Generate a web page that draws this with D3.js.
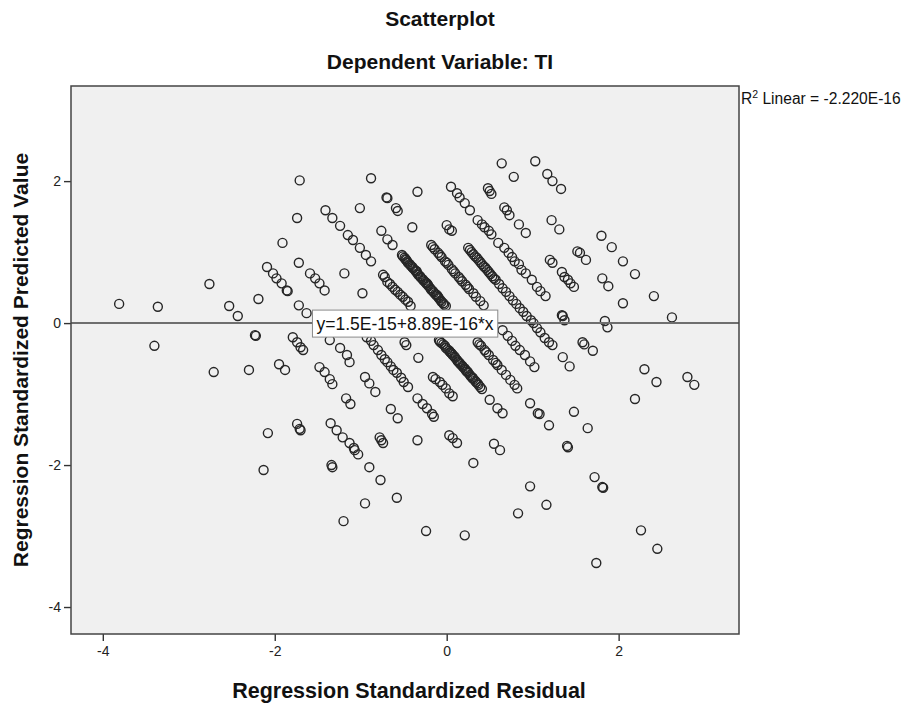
<!DOCTYPE html>
<html><head><meta charset="utf-8">
<script src="https://cdn.jsdelivr.net/npm/d3@7"></script>
<style>
body{margin:0;background:#fff;}
svg{display:block;}
text{font-family:"Liberation Sans",Arial,sans-serif;}
</style>
</head><body>
<svg id="chart" width="905" height="704"></svg>
<script>
const chartTitle = "Scatterplot";
const chartSubtitle = "Dependent Variable: TI";
const xTitle = "Regression Standardized Residual";
const yTitle = "Regression Standardized Predicted Value";
const xTicks = [-4, -2, 0, 2];
const yTicks = [-4, -2, 0, 2];
const xDomain = [-4.37, 3.40];
const yDomain = [-4.38, 3.34];
const fitIntercept = 1.5e-15;
const fitSlope = 8.89e-16;
const fitLabel = "y=1.5E-15+8.89E-16*x";
const r2Parts = ["R", "2", " Linear = -2.220E-16"];

// [standardized residual, standardized predicted value]
const points = [
[-3.81,0.27],[-3.40,-0.32],[-2.13,-2.07],
[-3.36,0.23],[-2.71,-0.69],[-2.08,-1.55],[-1.20,-2.79],
[-2.30,-0.66],[-1.74,-1.42],[-1.71,-1.49],[-1.70,-1.51],[-1.34,-2.00],[-1.33,-2.03],[-0.95,-2.54],
[-2.76,0.55],[-2.53,0.24],[-2.43,0.10],[-2.23,-0.17],[-2.22,-0.18],[-1.95,-0.58],[-1.88,-0.66],[-1.35,-1.41],[-1.28,-1.51],[-1.21,-1.61],[-1.13,-1.69],[-1.08,-1.76],[-1.07,-1.79],[-1.03,-1.85],[-0.90,-2.03],[-0.77,-2.21],[-0.58,-2.46],[-0.24,-2.93],
[-2.19,0.34],[-1.79,-0.20],[-1.74,-0.27],[-1.70,-0.34],[-1.67,-0.38],[-1.48,-0.62],[-1.42,-0.69],[-1.36,-0.79],[-1.33,-0.86],[-1.17,-1.06],[-1.12,-1.14],[-0.78,-1.61],[-0.76,-1.65],[-0.74,-1.69],[0.21,-2.99],
[-2.09,0.79],[-2.02,0.70],[-1.98,0.63],[-1.92,0.56],[-1.86,0.46],[-1.85,0.45],[-1.72,0.25],[-1.63,0.14],[-1.36,-0.24],[-1.24,-0.35],[-1.16,-0.45],[-1.13,-0.55],[-0.95,-0.76],[-0.90,-0.85],[-0.83,-0.97],[-0.65,-1.21],[-0.57,-1.34],[-0.34,-1.65],
[-1.91,1.13],[-1.72,0.85],[-1.59,0.70],[-1.53,0.63],[-1.48,0.56],[-1.42,0.46],[-0.93,-0.20],[-0.88,-0.25],[-0.85,-0.31],[-0.80,-0.38],[-0.76,-0.45],[-0.72,-0.51],[-0.69,-0.55],[-0.65,-0.61],[-0.62,-0.66],[-0.58,-0.70],[-0.53,-0.77],[-0.50,-0.83],[-0.45,-0.90],[-0.34,-1.06],[-0.28,-1.14],[-0.23,-1.20],[-0.17,-1.28],[-0.15,-1.32],[0.03,-1.58],[0.07,-1.62],[0.12,-1.69],[0.31,-1.97],[0.83,-2.68],
[-1.74,1.48],[-1.19,0.70],[-0.98,0.42],[-0.49,-0.27],[-0.47,-0.31],[-0.33,-0.49],[-0.16,-0.76],[-0.13,-0.79],[-0.08,-0.83],[-0.05,-0.87],[-0.01,-0.92],[0.03,-0.99],[0.07,-1.03],[0.55,-1.70],[0.62,-1.79],[0.97,-2.30],[1.16,-2.56],[1.74,-3.38],
[-1.71,2.01],[-1.41,1.59],[-1.33,1.48],[-1.24,1.37],[-1.15,1.24],[-1.09,1.17],[-1.01,1.06],[-0.94,0.96],[-0.88,0.87],[-0.74,0.68],[-0.69,0.58],[-0.63,0.51],[-0.57,0.44],[-0.51,0.37],[-0.45,0.30],[-0.42,0.24],
[-0.72,0.65],[-0.66,0.55],[-0.60,0.47],[-0.54,0.40],[-0.48,0.33],
[-0.09,-0.24],[-0.06,-0.28],[-0.02,-0.32],[0.01,-0.37],[0.04,-0.41],[0.07,-0.45],[0.10,-0.49],[0.13,-0.54],[0.16,-0.58],[0.19,-0.62],[0.22,-0.66],[0.25,-0.70],[0.28,-0.75],[0.31,-0.79],[0.34,-0.83],[0.37,-0.87],[0.41,-0.93],
[-0.08,-0.26],[-0.04,-0.30],[-0.01,-0.35],[0.03,-0.39],[0.06,-0.43],[0.09,-0.47],[0.12,-0.52],[0.15,-0.56],[0.18,-0.60],[0.21,-0.64],[0.24,-0.68],[0.27,-0.73],[0.30,-0.77],[0.33,-0.81],[0.36,-0.85],[0.39,-0.90],
[0.05,-0.42],[0.14,-0.55],[0.23,-0.68],[0.30,-0.77],
[0.50,-1.08],[0.59,-1.20],[0.65,-1.27],
[-1.01,1.62],[-0.76,1.30],[-0.69,1.18],[-0.63,1.10],
[-0.52,0.96],[-0.49,0.92],[-0.46,0.87],[-0.43,0.83],[-0.40,0.79],[-0.37,0.75],[-0.34,0.70],[-0.31,0.66],[-0.28,0.62],[-0.25,0.58],[-0.22,0.54],[-0.19,0.49],[-0.16,0.45],[-0.13,0.41],[-0.10,0.37],[-0.07,0.32],[-0.04,0.28],[-0.01,0.24],
[-0.51,0.94],[-0.48,0.90],[-0.45,0.85],[-0.42,0.81],[-0.39,0.77],[-0.36,0.73],[-0.33,0.68],[-0.30,0.64],[-0.27,0.60],[-0.24,0.56],[-0.21,0.52],[-0.18,0.47],[-0.15,0.43],[-0.12,0.39],[-0.09,0.35],[-0.06,0.30],[-0.03,0.26],
[-0.47,0.89],[-0.35,0.73],[-0.23,0.56],[-0.11,0.39],
[0.36,-0.27],[0.40,-0.32],[0.44,-0.38],[0.49,-0.45],[0.54,-0.52],[0.59,-0.59],[0.64,-0.66],[0.69,-0.73],[0.74,-0.80],[0.79,-0.87],[0.82,-0.92],
[0.38,-0.30],[0.46,-0.41],[0.57,-0.56],
[0.97,-1.13],[1.06,-1.27],[1.08,-1.28],[1.19,-1.44],[1.41,-1.75],[1.40,-1.73],[1.72,-2.17],[1.81,-2.31],[1.82,-2.32],[2.26,-2.92],[2.45,-3.18],
[-0.88,2.04],[-0.70,1.77],[-0.69,1.76],[-0.59,1.62],[-0.57,1.58],[-0.40,1.35],
[-0.18,1.10],[-0.14,1.04],[-0.10,0.99],[-0.06,0.93],[-0.02,0.87],[0.02,0.82],[0.06,0.76],[0.10,0.70],[0.14,0.65],[0.18,0.59],[0.22,0.54],[0.26,0.48],[0.31,0.42],[0.34,0.37],[0.39,0.31],[0.43,0.25],
[-0.16,1.07],[-0.08,0.96],[0.00,0.85],[0.08,0.73],[0.16,0.62],[0.24,0.51],
[0.65,-0.10],[0.71,-0.18],[0.76,-0.25],[0.80,-0.32],[0.85,-0.38],[0.91,-0.45],[0.97,-0.54],[1.02,-0.62],[1.48,-1.25],[1.64,-1.48],
[-0.34,1.85],[0.00,1.38],[0.03,1.32],[0.06,1.30],
[0.25,1.06],[0.29,1.00],[0.33,0.94],[0.37,0.89],[0.41,0.83],[0.45,0.78],[0.49,0.72],[0.53,0.66],[0.57,0.61],[0.61,0.55],[0.65,0.49],[0.69,0.44],[0.73,0.38],[0.77,0.32],[0.81,0.27],[0.85,0.21],[0.89,0.16],
[0.27,1.03],[0.31,0.97],[0.35,0.92],[0.39,0.86],[0.43,0.80],[0.47,0.75],[0.51,0.69],[0.55,0.63],
[0.93,0.10],[0.98,0.04],[1.01,0.00],[1.05,-0.07],[1.09,-0.13],[1.14,-0.21],[1.19,-0.27],[1.23,-0.31],[1.35,-0.48],[1.43,-0.61],
[0.05,1.92],[0.12,1.83],[0.15,1.77],[0.21,1.69],[0.27,1.59],[0.36,1.45],[0.41,1.39],[0.44,1.35],[0.49,1.30],[0.52,1.25],[0.60,1.13],[0.67,1.06],[0.72,0.99],[0.76,0.93],[0.79,0.87],[0.84,0.83],[0.87,0.75],[0.92,0.70],[0.99,0.61],[1.05,0.51],[1.09,0.45],[1.15,0.38],[1.34,0.11],[1.35,0.10],[1.37,0.04],[1.58,-0.27],[1.60,-0.30],[1.70,-0.39],[2.19,-1.07],
[0.48,1.90],[0.50,1.86],[0.52,1.82],[0.67,1.63],[0.70,1.59],[0.73,1.52],[0.84,1.39],[0.92,1.27],[1.20,0.89],[1.23,0.85],[1.34,0.72],[1.37,0.65],[1.41,0.61],[1.44,0.56],[1.48,0.51],[1.84,0.03],[1.87,-0.06],[2.30,-0.65],[2.44,-0.83],
[0.64,2.25],[0.78,2.06],[1.22,1.45],[1.31,1.32],[1.52,1.01],[1.55,0.99],[1.62,0.89],[1.81,0.63],[1.88,0.52],[2.05,0.28],[2.80,-0.76],[2.88,-0.87],
[1.03,2.28],[1.17,2.10],[1.23,2.00],[1.33,1.89],[1.80,1.23],[1.92,1.07],[2.05,0.87],[2.19,0.69],[2.41,0.38],[2.62,0.08]
];

const svg = d3.select("#chart");
const plot = {left: 71, right: 739, top: 86, bottom: 634};
const x = d3.scaleLinear().domain(xDomain).range([plot.left, plot.right]);
const y = d3.scaleLinear().domain(yDomain).range([plot.bottom, plot.top]);
const fontFam = "'Liberation Sans',Arial,sans-serif";

// titles
svg.append("text").attr("x", 440).attr("y", 26).attr("text-anchor", "middle")
  .attr("font-size", 21).attr("font-weight", "bold").attr("fill", "#111").text(chartTitle);
svg.append("text").attr("x", 440).attr("y", 69).attr("text-anchor", "middle")
  .attr("font-size", 21).attr("font-weight", "bold").attr("fill", "#111").text(chartSubtitle);

// plot background
svg.append("rect").attr("x", plot.left).attr("y", plot.top)
  .attr("width", plot.right - plot.left).attr("height", plot.bottom - plot.top)
  .attr("fill", "#f0f0f0");

// axes
const xAxis = svg.append("g").attr("transform", `translate(0,${plot.bottom})`)
  .call(d3.axisBottom(x).tickValues(xTicks).tickSize(7).tickPadding(5).tickFormat(d => String(d)));
const yAxis = svg.append("g").attr("transform", `translate(${plot.left},0)`)
  .call(d3.axisLeft(y).tickValues(yTicks).tickSize(7).tickPadding(3).tickFormat(d => String(d)));
[xAxis, yAxis].forEach(g => {
  g.select(".domain").remove();
  g.selectAll(".tick line").attr("stroke", "#333").attr("stroke-width", 1.4);
  g.selectAll(".tick text").attr("font-size", 14).attr("fill", "#222").attr("font-family", fontFam);
});

// points
svg.append("clipPath").attr("id", "plotclip").append("rect")
  .attr("x", plot.left).attr("y", plot.top)
  .attr("width", plot.right - plot.left).attr("height", plot.bottom - plot.top);
svg.append("g").attr("clip-path", "url(#plotclip)")
  .selectAll("circle").data(points).join("circle")
  .attr("cx", d => x(d[0])).attr("cy", d => y(d[1])).attr("r", 4.5)
  .attr("fill", "none").attr("stroke", "#262626").attr("stroke-width", 1.4);

// fit line
svg.append("line")
  .attr("x1", x(xDomain[0])).attr("y1", y(fitIntercept + fitSlope * xDomain[0]))
  .attr("x2", x(xDomain[1])).attr("y2", y(fitIntercept + fitSlope * xDomain[1]))
  .attr("stroke", "#6e6e6e").attr("stroke-width", 2);

// fit label
const midX = (xDomain[0] + xDomain[1]) / 2;
const lab = svg.append("g");
const labText = lab.append("text")
  .attr("x", x(midX)).attr("y", y(fitIntercept + fitSlope * midX) + 6.5)
  .attr("text-anchor", "middle").attr("font-size", 17.5).attr("fill", "#111").text(fitLabel);
const bb = labText.node().getBBox();
lab.insert("rect", "text").attr("x", bb.x - 4).attr("y", y(0) - 13)
  .attr("width", bb.width + 8).attr("height", 27)
  .attr("fill", "#fff").attr("stroke", "#8a8a8a").attr("stroke-width", 1);

// border
svg.append("rect").attr("x", plot.left).attr("y", plot.top)
  .attr("width", plot.right - plot.left).attr("height", plot.bottom - plot.top)
  .attr("fill", "none").attr("stroke", "#444").attr("stroke-width", 1.5);

// R2 annotation
const r2 = svg.append("text").attr("x", plot.right + 2).attr("y", 104)
  .attr("font-size", 15.6).attr("fill", "#111");
r2.append("tspan").text(r2Parts[0]);
r2.append("tspan").attr("font-size", 10.5).attr("dy", -6).text(r2Parts[1]);
r2.append("tspan").attr("dy", 6).text(r2Parts[2]);

// axis titles
svg.append("text").attr("x", (plot.left + plot.right) / 2 + 4).attr("y", 698)
  .attr("text-anchor", "middle").attr("font-size", 21.5).attr("font-weight", "bold")
  .attr("fill", "#111").text(xTitle);
svg.append("text").attr("transform", `translate(28,${(plot.top + plot.bottom) / 2}) rotate(-90)`)
  .attr("text-anchor", "middle").attr("font-size", 21).attr("font-weight", "bold")
  .attr("fill", "#111").text(yTitle);
</script>
</body></html>
